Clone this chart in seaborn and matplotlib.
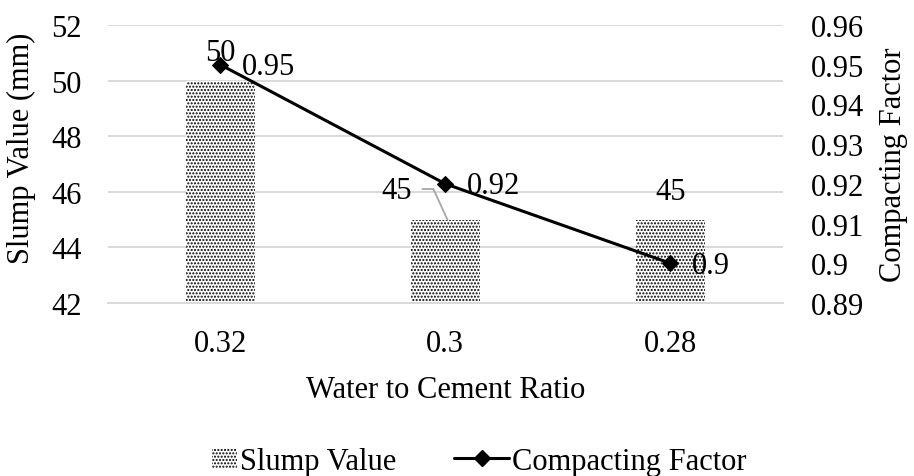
import matplotlib
matplotlib.use("Agg")
import matplotlib.pyplot as plt
from matplotlib.patches import Patch, Rectangle
from matplotlib.lines import Line2D
from matplotlib.legend_handler import HandlerPatch
import seaborn as sns
import pandas as pd
import numpy as np

ratios = ["0.32", "0.3", "0.28"]
slump_values = [50, 45, 45]
compacting_factor = [0.95, 0.92, 0.90]
slump_labels = ["50", "45", "45"]
cf_labels = ["0.95", "0.92", "0.9"]
cf_ticks = [0.89, 0.90, 0.91, 0.92, 0.93, 0.94, 0.95, 0.96]
cf_tick_labels = ["0.89", "0.9", "0.91", "0.92", "0.93", "0.94", "0.95", "0.96"]

sns.set_theme(style="white")
plt.rcParams["font.family"] = ["Liberation Serif", "DejaVu Serif"]
plt.rcParams["text.color"] = "black"
plt.rcParams["axes.labelcolor"] = "black"
plt.rcParams["xtick.color"] = "black"
plt.rcParams["ytick.color"] = "black"
plt.rcParams["hatch.linewidth"] = 1.0
plt.rcParams["hatch.color"] = "black"

FS = 22
HATCH = "....."
df = pd.DataFrame({"ratio": ratios, "slump": slump_values})

fig = plt.figure(figsize=(9.14, 4.77), dpi=100)
ax = fig.add_axes([0.118, 0.3627, 0.7385, 0.5828])

sns.barplot(data=df, x="ratio", y="slump", ax=ax, color="white", width=0.307,
            saturation=1)
for p in ax.patches:
    p.set_hatch(HATCH)
    p.set_edgecolor("black")
    p.set_linewidth(0)

ax.set_ylim(42, 52)
ax.set_yticks(np.arange(42, 53, 2))
ax.set_xlim(-0.5, 2.5)
ax.yaxis.grid(True, color="#d9d9d9", linewidth=1.4)
ax.set_axisbelow(True)
for s in ["top", "left", "right"]:
    ax.spines[s].set_visible(False)
ax.spines["bottom"].set_color("#d9d9d9")
ax.spines["bottom"].set_linewidth(1.4)
ax.tick_params(axis="y", length=0, labelsize=FS, pad=19)
ax.tick_params(axis="x", length=0, labelsize=FS, pad=19)
ax.set_xlabel("Water to Cement Ratio", fontsize=FS, labelpad=12)
ax.set_ylabel("Slump Value (mm)", fontsize=FS)
ax.yaxis.set_label_coords(-0.106, 0.56)

ax2 = ax.twinx()
x_pos = np.arange(len(ratios))
sns.lineplot(x=x_pos, y=compacting_factor, ax=ax2, color="black", linewidth=2.2,
             marker="D", markersize=8, markeredgecolor="black")
ax2.set_ylim(0.89, 0.96)
ax2.set_yticks(cf_ticks)
ax2.set_yticklabels(cf_tick_labels)
for s in ["top", "left", "right", "bottom"]:
    ax2.spines[s].set_visible(False)
ax2.tick_params(axis="y", length=0, labelsize=FS, pad=20)
ax2.set_ylabel("Compacting Factor", fontsize=FS)
ax2.yaxis.set_label_coords(1.143, 0.5)

# bar value labels
ax.text(x_pos[0], slump_values[0] + 1.0, slump_labels[0], fontsize=FS,
        ha="center", va="center")
ax.text(x_pos[1] - 0.147, slump_values[1] + 1.03, slump_labels[1], fontsize=FS,
        ha="right", va="center")
ax.plot([x_pos[1] - 0.102, x_pos[1] - 0.053, x_pos[1] + 0.009],
        [slump_values[1] + 1.1, slump_values[1] + 1.1, slump_values[1]],
        color="#a6a6a6", linewidth=1.3)
ax.text(x_pos[2], slump_values[2] + 1.0, slump_labels[2], fontsize=FS,
        ha="center", va="center")

# line value labels
for i, (v, lab) in enumerate(zip(compacting_factor, cf_labels)):
    ax2.text(x_pos[i] + 0.095, v - 0.0005, lab, fontsize=FS, ha="left", va="center")


def small_box(legend, orig_handle, xdescent, ydescent, width, height, fontsize):
    # narrow swatch drawn at the right end of the handle slot
    w = width * 0.45
    return Rectangle((width - w - xdescent, -ydescent), w, height)


legend_handles = [
    Patch(facecolor="white", edgecolor="black", hatch=HATCH, linewidth=0,
          label="Slump Value"),
    Line2D([], [], color="black", linewidth=2.2, marker="D", markersize=8,
           label="Compacting Factor"),
]
fig.legend(handles=legend_handles, loc="center", bbox_to_anchor=(0.508, 0.031),
           ncol=2, frameon=False, fontsize=FS, handlelength=1.8, handleheight=0.6,
           handletextpad=0.1, columnspacing=1.9, borderpad=0,
           handler_map={Patch: HandlerPatch(patch_func=small_box)})

fig.savefig("out.png", dpi=100)
